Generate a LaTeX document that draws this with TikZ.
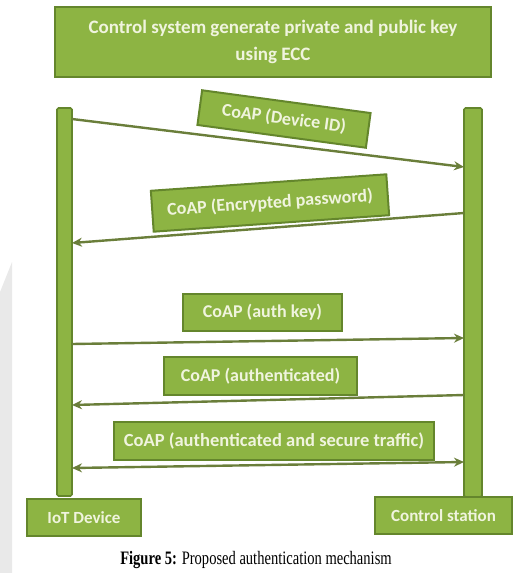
\documentclass[tikz,border=0pt]{standalone}
\usepackage{graphicx}
\usepackage{fontspec}
\newfontfamily\calfont{Carlito}
\newfontfamily\capfont{Liberation Serif}
\usetikzlibrary{arrows.meta}
\definecolor{gfill}{RGB}{141,180,67}
\definecolor{gborder}{RGB}{100,134,44}
\definecolor{garrow}{RGB}{106,126,58}
\definecolor{gtext}{RGB}{240,244,222}
\definecolor{wmark}{RGB}{233,233,233}
\tikzset{
  gbox/.style={draw=gborder, line width=2pt, fill=gfill, inner sep=0pt,
    font=\calfont\bfseries\fontsize{18}{27}\selectfont, text=gtext, align=center},
  lifebar/.style={draw=gborder, line width=1.6pt, fill=gfill, rounded corners=1.5pt, inner sep=0pt},
  msg/.style={draw=garrow, line width=2.4pt, -{Stealth[length=10pt,width=9pt]}},
  msgboth/.style={draw=garrow, line width=2.4pt, {Stealth[length=10pt,width=9pt]}-{Stealth[length=10pt,width=9pt]}}
}
\begin{document}
\begin{tikzpicture}[x=1pt,y=-1pt]
\useasboundingbox (0,0) rectangle (512,573);
% faint watermark
\fill[wmark] (0,292) -- (12,262) -- (12,573) -- (0,573) -- cycle;
% top box
\node[gbox, line width=2.6pt, minimum width=436pt, minimum height=70pt,
  font=\calfont\bfseries\fontsize{19}{27}\selectfont] (top) at (273,42)
  {Control system generate private and public key\\using ECC};
% lifelines
\node[lifebar, minimum width=15pt, minimum height=388pt] (L) at (64.5,302) {};
\node[lifebar, minimum width=18pt, minimum height=389pt] (R) at (473,302.5) {};
% end boxes
\node[gbox, minimum width=114pt, minimum height=37pt, font=\calfont\bfseries\fontsize{17}{20}\selectfont] (iot) at (84,517.5) {IoT Device};
\node[gbox, minimum width=137pt, minimum height=37pt, font=\calfont\bfseries\fontsize{17}{20}\selectfont] (cs) at (443.5,515.5) {Control station};
% message labels
\node[gbox, minimum width=170pt, minimum height=35pt, rotate=-7.7] (m1) at (284,119) {CoAP (Device ID)};
\node[gbox, minimum width=236pt, minimum height=41pt, rotate=4] (m2) at (270,203) {CoAP (Encrypted password)};
\node[gbox, minimum width=159pt, minimum height=37pt] (m3) at (262.5,312.5) {CoAP (auth key)};
\node[gbox, minimum width=193pt, minimum height=38pt] (m4) at (260.5,376) {CoAP (authenticated)};
\node[gbox, minimum width=320pt, minimum height=38pt, font=\calfont\bfseries\fontsize{18.5}{27}\selectfont] (m5) at (274,441) {CoAP (authenticated and secure traffic)};
% arrow endpoints on lifelines
\coordinate (a1s) at (72,119);  \coordinate (a1e) at (464,167);
\coordinate (a2s) at (464,213); \coordinate (a2e) at (72,243);
\coordinate (a3s) at (72,344);  \coordinate (a3e) at (464,338);
\coordinate (a4s) at (464,395); \coordinate (a4e) at (72,405);
\coordinate (a5s) at (72,468);  \coordinate (a5e) at (464,462);
\draw[msg] (a1s) -- (a1e);
\draw[msg] (a2s) -- (a2e);
\draw[msg] (a3s) -- (a3e);
\draw[msg] (a4s) -- (a4e);
\draw[msgboth] (a5s) -- (a5e);
% caption
\node[font=\capfont\fontsize{19}{22}\selectfont, inner sep=0pt, anchor=base] (cap) at (256,564)
  {\scalebox{0.765}[1]{\textbf{Figure 5:} Proposed authentication mechanism}};
\end{tikzpicture}
\end{document}
